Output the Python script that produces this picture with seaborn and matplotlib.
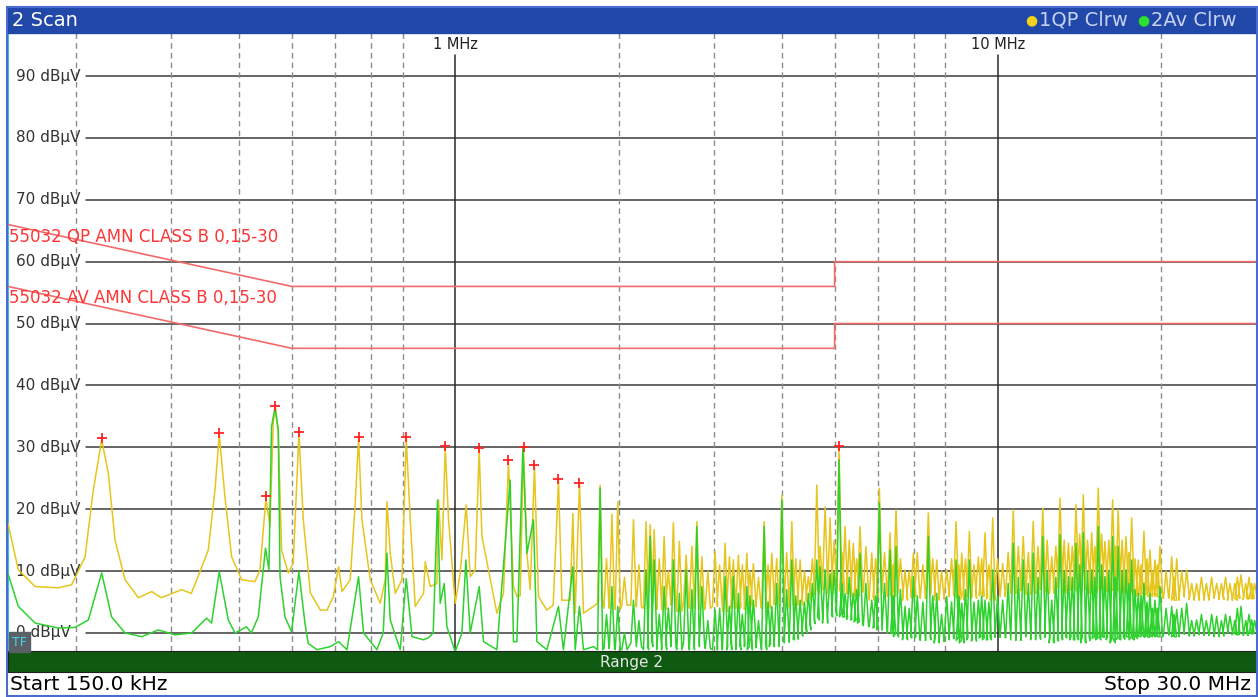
import numpy as np
import pandas as pd
import seaborn as sns
import matplotlib.pyplot as plt
from matplotlib.patches import Rectangle

# screen size of the analyzer capture, in pixels
W, H = 1258, 697

# quasi-peak trace below 1.8 MHz (MHz, dBuV)
qp_low_mhz = [0.150, 0.1567, 0.1683, 0.1857, 0.1965, 0.2080, 0.2154, 0.2232, 0.2296, 0.2362,
              0.2465, 0.2608, 0.2759, 0.2874, 0.3133, 0.3264, 0.3386, 0.3508, 0.3609, 0.3675,
              0.3765, 0.3873, 0.4041, 0.4276, 0.4368, 0.4480, 0.4557, 0.4622, 0.4662, 0.4721,
              0.4788, 0.4927, 0.5030, 0.5153, 0.5249, 0.5361, 0.5408, 0.5644, 0.5806, 0.5962,
              0.6098, 0.6186, 0.6406, 0.6543, 0.6636, 0.6733, 0.6974, 0.7275, 0.7431, 0.7485,
              0.7591, 0.7754, 0.7977, 0.8124, 0.8263, 0.8440, 0.8743, 0.8806, 0.8995, 0.9254,
              0.9316, 0.9452, 0.9585, 0.9721, 1.000, 1.0214, 1.0478, 1.0656, 1.0885, 1.1071,
              1.1199, 1.1516, 1.1933, 1.2271, 1.2535, 1.2804, 1.2989, 1.3173, 1.3360, 1.3555,
              1.3745, 1.3996, 1.4237, 1.4753, 1.5152, 1.5497, 1.5723, 1.6284, 1.6471, 1.6634,
              1.6940, 1.7232, 1.7981]
qp_low_db = [17.7, 10.2, 7.5, 7.3, 7.8, 12.3, 23.1, 31.2, 25.8, 15.0,
             8.6, 5.7, 6.7, 5.7, 7.0, 6.4, 9.9, 13.4, 23.1, 32.0,
             22.0, 12.3, 8.6, 8.3, 10.2, 21.8, 17.2, 34.0, 36.4, 32.3,
             13.4, 9.7, 11.3, 32.2, 18.3, 10.2, 6.5, 3.7, 3.7, 5.9,
             10.7, 6.7, 8.6, 21.0, 31.4, 18.3, 8.6, 4.8, 8.6, 21.2,
             12.9, 6.4, 8.6, 31.4, 18.3, 4.3, 6.4, 11.5, 7.5, 8.0,
             21.5, 11.8, 29.9, 18.3, 4.8, 9.7, 20.7, 9.1, 10.2, 29.6,
             15.6, 10.2, 3.2, 6.4, 27.6, 7.5, 5.9, 6.0, 29.8, 12.9,
             7.0, 26.8, 5.9, 3.7, 4.5, 24.6, 5.3, 5.3, 19.3, 3.2,
             24.1, 3.2, 4.3]

# average trace below 1.8 MHz
av_low_mhz = [0.150, 0.1567, 0.1683, 0.1857, 0.1993, 0.2109, 0.2232, 0.2328, 0.2465, 0.2645,
              0.2838, 0.3046, 0.3268, 0.3483, 0.3557, 0.3675, 0.3819, 0.3930, 0.4127, 0.4210,
              0.4337, 0.4472, 0.4537, 0.4587, 0.4656, 0.4721, 0.4756, 0.4857, 0.4994, 0.5153,
              0.5286, 0.5361, 0.5563, 0.5886, 0.6098, 0.6318, 0.6636, 0.6779, 0.7174, 0.7368,
              0.7485, 0.7591, 0.7920, 0.8124, 0.8325, 0.8743, 0.8918, 0.9109, 0.9277, 0.9384,
              0.9544, 0.9654, 1.000, 1.0288, 1.0464, 1.0656, 1.1071, 1.1275, 1.1933, 1.2625,
              1.2804, 1.2989, 1.3326, 1.3555, 1.3937, 1.4141, 1.4753, 1.5497, 1.5826, 1.6471,
              1.6634, 1.6940, 1.7232, 1.7981]
av_low_db = [9.6, 4.3, 1.6, 0.8, 0.9, 2.1, 9.7, 2.6, 0.0, -0.6,
             0.5, -0.3, 0.0, 2.4, 1.6, 9.9, 2.1, 0.0, 1.0, 0.0,
             2.6, 13.7, 10.2, 33.3, 36.5, 32.8, 9.1, 2.6, 0.2, 9.9,
             1.6, -1.7, -2.7, -2.2, -1.4, -2.7, 9.1, 0.0, -2.7, 0.0,
             12.9, 2.1, -2.7, 8.8, -0.6, -1.1, -0.8, 0.0, 21.5, 4.8,
             8.0, 1.0, -3.0, 0.0, 11.8, 0.0, 7.5, -1.4, -2.7, 24.7,
             -1.4, -1.4, 30.0, 12.9, 18.3, -1.4, -2.7, 4.3, -2.7, 10.7,
             -2.7, 4.3, -2.7, -2.2]

# main harmonic spikes above 1.8 MHz: centre, QP top, QP base, AV top, AV base
spike_mhz = [1.849, 1.944, 1.993, 2.130, 2.247, 2.287, 2.326, 2.426, 2.523, 2.588,
             2.663, 2.729, 2.787, 2.847, 3.011, 3.142, 3.200, 3.254, 3.324, 3.445,
             3.543, 3.708, 3.831, 3.997, 4.170, 4.320, 4.473,
             4.636, 4.701, 4.802, 4.905, 5.095,
             5.226, 5.413, 5.570, 5.853, 6.045, 6.325, 6.488, 6.741, 6.982, 7.441,
             7.711, 8.045, 8.369, 8.575, 8.856, 9.199, 9.464, 9.777,
             10.20, 10.67, 11.13, 11.61, 12.09, 12.56, 13.01, 13.48, 13.92, 14.36,
             14.88, 15.30, 15.74, 16.26, 16.65, 17.21, 17.63, 18.13, 18.57, 19.05,
             19.46, 19.88,
             20.89, 21.34, 22.26, 23.22, 25.28, 26.75, 28.03, 29.33]
qp_peak = [23.9, 19.2, 21.2, 18.3, 18.0, 17.5, 16.7, 15.6, 17.8, 14.8,
           12.6, 14.0, 18.0, 12.3, 13.2, 14.5, 12.3, 11.8, 12.6, 12.9,
           11.2, 18.0, 12.9, 22.3, 18.0, 11.8, 9.1,
           23.9, 14.0, 20.4, 18.6, 29.9,
           17.2, 14.5, 17.2, 12.9, 23.4, 16.2, 19.9, 10.2, 12.9, 19.4,
           11.8, 10.2, 18.0, 12.9, 16.4, 12.3, 16.2, 18.6,
           11.2, 19.9, 15.6, 18.0, 20.2, 12.3, 21.8, 14.5, 20.7, 22.3,
           16.2, 23.4, 14.8, 21.5, 19.9, 15.6, 18.6, 11.8, 16.4, 13.4,
           11.8, 14.0,
           12.3, 12.0, 10.2, 8.0, 8.0, 8.0, 9.4, 8.0]
qp_floor = [4.8, 4.3, 3.8, 4.5, 4.0, 4.8, 4.3, 3.8, 4.5, 3.5,
            4.8, 4.0, 4.3, 3.8, 4.3, 3.5, 4.8, 4.0, 4.3, 3.8,
            4.5, 4.0, 4.8, 4.3, 4.0, 4.5, 5.3,
            6.4, 7.0, 7.5, 6.4, 7.5,
            6.4, 5.9, 6.9, 5.3, 6.4, 5.9, 6.9, 5.3, 5.9, 6.4,
            5.3, 5.9, 6.4, 5.3, 5.9, 6.4, 5.9, 5.3,
            5.9, 6.4, 6.9, 6.4, 7.0, 6.4, 7.5, 6.9, 7.5, 7.0,
            6.4, 7.5, 6.9, 7.0, 6.4, 6.9, 6.4, 5.9, 6.4, 5.9,
            6.4, 5.9,
            5.9, 5.3, 5.9, 5.3, 5.6, 5.3, 5.9, 5.6]
av_peak = [23.4, 7.5, 4.3, 5.3, 10.2, 15.6, 11.8, 7.5, 11.8, 6.4,
           10.2, 7.0, 17.2, 7.5, 3.8, 9.1, 4.3, 9.1, 6.4, 7.5,
           5.3, 17.2, 4.3, 21.5, 11.8, 5.3, 6.4,
           11.8, 10.7, 10.2, 9.6, 28.0,
           6.4, 6.4, 12.9, 5.3, 21.0, 13.4, 14.0, 4.3, 9.1, 15.6,
           6.4, 5.9, 11.8, 4.8, 11.8, 5.3, 5.3, 10.2,
           5.3, 14.5, 11.8, 12.9, 15.6, 5.3, 15.9, 9.1, 14.5, 16.2,
           10.2, 17.2, 9.1, 15.6, 14.0, 10.2, 11.8, 6.4, 8.0, 6.4,
           5.3, 7.5,
           4.3, 3.8, 4.8, 2.1, 2.7, 2.7, 4.3, 2.1]
av_floor = [-2.7, -2.2, -2.7, -1.6, -2.7, -2.2, -1.1, -2.7, -2.2, -2.7,
            -1.6, -2.7, -2.2, -1.6, -2.7, -2.2, -2.7, -1.6, -2.7, -2.2,
            -1.1, -2.7, -2.2, -1.6, -1.1, -0.5, 0.5,
            2.1, 2.6, 1.6, 2.6, 3.2,
            2.6, 2.1, 1.6, 1.0, 0.5, 0.0, -0.6, -1.1, -0.6, -1.1,
            -1.6, -1.1, -0.6, -1.6, -1.1, -0.6, -1.1, -0.6,
            -0.6, -1.1, -0.6, -1.1, -0.6, -1.6, -1.1, -0.6, -1.1, -1.6,
            -0.6, -1.1, -0.6, -1.6, -1.1, -0.6, -1.1, -0.6, -0.3, -0.6,
            -0.3, -0.6,
            -0.3, -0.6, 0.0, -0.3, -0.6, 0.0, -0.3, 0.0]

# smaller spikes sitting between the main ones
minor_mhz = [1.90, 2.05, 2.18, 2.376, 2.47, 2.92, 3.07, 3.38, 3.49, 3.62, 3.77, 3.91, 4.08, 4.24, 4.40,
             4.55, 4.99, 5.16,
             5.32, 5.49, 5.71, 5.95, 6.18, 6.41, 6.61, 6.86,
             7.10, 7.27, 7.58, 7.87, 8.21, 8.47, 8.71, 9.03, 9.33, 9.62, 9.98,
             10.44, 10.90, 11.37, 11.85, 12.32, 12.78, 13.24, 13.70, 14.14, 14.62,
             15.08, 15.52, 16.00, 16.45, 16.93, 17.42, 17.88, 18.35, 18.81, 19.25, 19.67,
             20.40, 21.10, 21.80, 22.74, 23.70, 24.20, 24.75, 25.80, 26.25, 27.30, 27.60, 28.60, 29.00, 29.70]
minor_qp = [12, 9, 11, 12, 10, 10, 11, 11, 10, 9, 11, 12, 13, 12, 10,
            12, 15, 13,
            15, 12, 14, 12, 13, 11, 12, 10,
            13, 11, 12, 10, 12, 11, 12, 11, 12, 11, 12,
            13, 14, 13, 14, 15, 14, 15, 14, 16, 15,
            14, 16, 15, 14, 15, 13, 12, 11, 12, 10, 11,
            10, 9, 10, 8, 9, 8, 9, 8, 9, 8, 9, 8, 9, 8]
minor_qp_floor = [4.0, 4.5, 4.2, 3.8, 4.6, 4.0, 4.4, 3.9, 4.5, 4.2, 4.0, 4.6, 4.3, 4.8, 5.0,
                  6.2, 7.2, 6.8,
                  6.4, 6.0, 6.6, 5.8, 6.4, 6.0, 6.5, 5.7,
                  6.0, 5.6, 6.2, 5.5, 6.0, 5.7, 6.2, 5.6, 6.0, 5.5, 6.1,
                  6.4, 6.8, 6.2, 7.0, 6.6, 7.2, 6.5, 7.0, 6.8, 7.3,
                  6.6, 7.1, 6.7, 6.9, 6.4, 6.8, 6.2, 6.5, 6.0, 6.3, 5.9,
                  5.6, 5.3, 5.8, 5.4, 5.7, 5.3, 5.6, 5.4, 5.8, 5.3, 5.6, 5.4, 5.7, 5.5]
minor_av = [3, 0, 2, 3, 4, 2, 4, 3, 6, 2, 5, 8, 7, 6, 5,
            8, 10, 8,
            9, 7, 8, 6, 8, 6, 7, 4,
            6, 5, 6, 3, 5, 6, 7, 5, 6, 5, 6,
            8, 9, 8, 9, 10, 9, 10, 9, 11, 10,
            9, 11, 10, 9, 10, 8, 7, 6, 5, 4, 4,
            4, 3, 4, 2, 3, 2, 3, 2, 3, 2, 4, 2, 3, 2]
minor_av_floor = [-2.5, -2.7, -2.2, -2.7, -1.8, -2.5, -2.7, -2.0, -2.7, -2.4, -1.6, -2.2, -1.5, -1.0, 0.0,
                  1.5, 2.8, 2.6,
                  2.2, 1.8, 1.2, 0.8, 0.4, 0.0, -0.4, -0.8,
                  -0.8, -1.2, -0.6, -1.4, -0.9, -1.2, -0.7, -1.3, -0.8, -1.1, -0.7,
                  -0.8, -1.2, -0.6, -1.0, -0.7, -1.3, -0.8, -1.1, -0.6, -1.2,
                  -0.9, -0.7, -1.1, -0.8, -1.0, -0.6, -0.9, -0.5, -0.7, -0.4, -0.6,
                  -0.3, -0.6, -0.2, -0.5, 0.0, -0.4, -0.2, -0.5, 0.0, -0.3, -0.1, -0.4, 0.0, -0.2]

# peak list markers
mark_mhz = [0.2232, 0.3675, 0.4480, 0.4662, 0.5153, 0.6636, 0.8124, 0.9585,
            1.1071, 1.2535, 1.3360, 1.3996, 1.5497, 1.6940, 5.095]
mark_db = [31.5, 32.3, 22.1, 36.7, 32.5, 31.7, 31.7, 30.2,
           29.9, 27.9, 30.0, 27.1, 24.9, 24.2, 30.2]

# EN 55032 class B conducted limits
limit_mhz = [0.15, 0.5, 5.0, 5.0, 30.0]
qp_limit = [66, 56, 56, 60, 60]
av_limit = [56, 46, 46, 50, 50]

levels = [0, 10, 20, 30, 40, 50, 60, 70, 80, 90]
grid_mhz = [0.2, 0.3, 0.4, 0.5, 0.6, 0.7, 0.8, 2, 3, 4, 5, 6, 7, 8, 20]
major_mhz = [1, 10]
major_labels = ['1 MHz', '10 MHz']

spikes = pd.concat([
    pd.DataFrame({'f': spike_mhz, 'qp': qp_peak, 'qpf': qp_floor, 'av': av_peak, 'avf': av_floor}),
    pd.DataFrame({'f': minor_mhz, 'qp': minor_qp, 'qpf': minor_qp_floor, 'av': minor_av, 'avf': minor_av_floor}),
]).sort_values('f')


def trace(low_f, low_db, top, base):
    f, db = list(low_f), list(low_db)
    for s, p, fl in zip(spikes['f'], spikes[top], spikes[base]):
        f += [s / 1.011, s, s * 1.011]
        db += [fl, p, fl]
    return pd.DataFrame({'MHz': f, 'dBuV': db})


qp = trace(qp_low_mhz, qp_low_db, 'qp', 'qpf')
av = trace(av_low_mhz, av_low_db, 'av', 'avf')

sns.set_style('white')
plt.rcParams['font.family'] = ['DejaVu Sans']

fig = plt.figure(figsize=(W / 100, H / 100), dpi=100)
ax = fig.add_axes([8 / W, 1 - 651 / H, 1249 / W, 618 / H])
ax.set_xscale('log')
ax.set_xlim(0.15, 30)
ax.set_ylim(-2.91, 96.95)
ax.set_xticks([])
ax.set_yticks([])
ax.minorticks_off()
for s in ax.spines.values():
    s.set_visible(False)
ax.spines['left'].set_visible(True)
ax.spines['left'].set_color('#3cc4d8')
ax.spines['left'].set_linewidth(1.5)

yax = ax.get_yaxis_transform()
for lv in levels:
    ax.plot([0.0625, 1], [lv, lv], transform=yax, color='#3c3c3c', lw=1.1, zorder=1)
    ax.text(0.0064, lv, f'{lv} dB\u00b5V', transform=yax, ha='left', va='center',
            fontsize=11, color='#333333', zorder=2)

for f in grid_mhz:
    ax.axvline(f, color='#8c8c8c', lw=1, ls=(0, (4, 3)), zorder=1)
for f, lab in zip(major_mhz, major_labels):
    ax.plot([f, f], [-2.91, 93.4], color='#2a2a2a', lw=1.1, zorder=1)
    ax.text(f, 95.1, lab, ha='center', va='center', fontsize=10.5, color='#222222')

# limit lines
sns.lineplot(x=limit_mhz, y=qp_limit, sort=False, estimator=None, color='#f26a6a', lw=1.2, ax=ax, zorder=3)
sns.lineplot(x=limit_mhz, y=av_limit, sort=False, estimator=None, color='#f26a6a', lw=1.2, ax=ax, zorder=3)
ax.text(0.001, 64.0, '55032 QP AMN CLASS B 0,15-30', transform=yax, ha='left', va='center',
        fontsize=12, color='#ff3535', zorder=4)
ax.text(0.001, 54.1, '55032 AV AMN CLASS B 0,15-30', transform=yax, ha='left', va='center',
        fontsize=12, color='#ff3535', zorder=4)

# traces
sns.lineplot(data=qp, x='MHz', y='dBuV', sort=False, estimator=None, color='#e6c51c', lw=1.1, ax=ax, zorder=5)
sns.lineplot(data=av, x='MHz', y='dBuV', sort=False, estimator=None, color='#2ed12e', lw=1.1, ax=ax, zorder=6)
sns.scatterplot(x=mark_mhz, y=mark_db, marker='+', s=45, color='#ff2424', linewidth=1.3, ax=ax, zorder=7)
ax.set_xlabel('')
ax.set_ylabel('')

# title bar
fig.patches.append(Rectangle((8 / W, 1 - 33 / H), 1249 / W, 26 / H, transform=fig.transFigure,
                             color='#2148a8', zorder=0))
fig.text(12 / W, 1 - 20 / H, '2 Scan', color='white', fontsize=14, va='center', ha='left')
fig.text(1031 / W, 1 - 20 / H, '\u25cf', color='#f2d21a', fontsize=10, va='center', ha='center')
fig.text(1039 / W, 1 - 20 / H, '1QP Clrw', color='#c6d2f2', fontsize=14, va='center', ha='left')
fig.text(1143 / W, 1 - 20 / H, '\u25cf', color='#2ee02e', fontsize=10, va='center', ha='center')
fig.text(1151 / W, 1 - 20 / H, '2Av Clrw', color='#c6d2f2', fontsize=14, va='center', ha='left')

# range bar and footer
fig.patches.append(Rectangle((8 / W, 1 - 672 / H), 1249 / W, 21 / H, transform=fig.transFigure,
                             facecolor='#0e5a10', edgecolor='#202020', lw=0.8, zorder=0))
fig.text(632 / W, 1 - 662 / H, 'Range 2', color='#e6e6e6', fontsize=11, va='center', ha='center')
fig.text(10 / W, 1 - 685 / H, 'Start 150.0 kHz', color='black', fontsize=14.5, va='center', ha='left')
fig.text(1251 / W, 1 - 685 / H, 'Stop 30.0 MHz', color='black', fontsize=14.5, va='center', ha='right')

# trigger flag box
fig.patches.append(Rectangle((9 / W, 1 - 652 / H), 21 / W, 20 / H, transform=fig.transFigure,
                             color='#5a6066', zorder=3))
fig.text(19.5 / W, 1 - 642 / H, 'TF', color='#3fd8f0', fontsize=9, va='center', ha='center', zorder=4)

# outer frame
fig.patches.append(Rectangle((7 / W, 1 - 696 / H), 1250 / W, 689 / H, transform=fig.transFigure,
                             fill=False, edgecolor='#4a6cd0', lw=1.5, zorder=0))

fig.savefig('out.png', dpi=100)
